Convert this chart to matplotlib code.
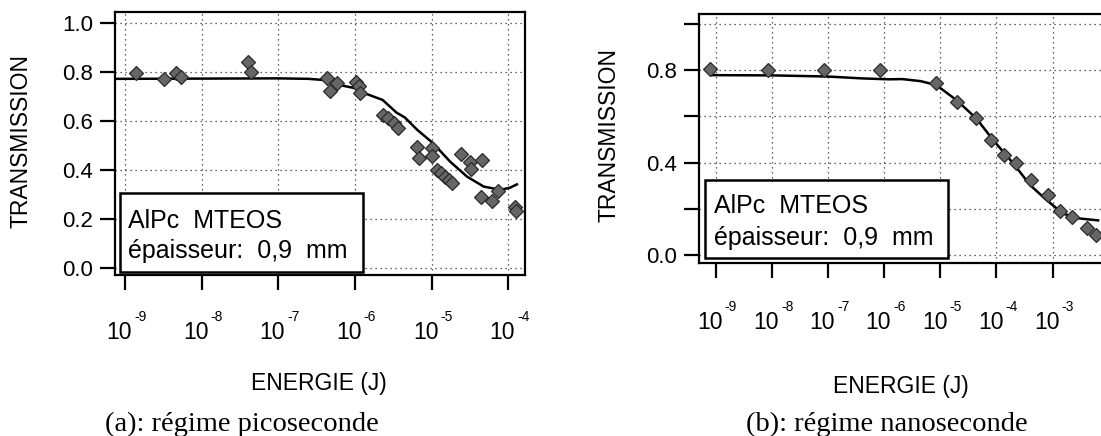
#!/usr/bin/env python3
"""
Transmission vs energy for AlPc MTEOS (picosecond and nanosecond regimes).
"""

import math

import matplotlib
matplotlib.use("Agg")
import matplotlib.pyplot as plt
from matplotlib.patches import Rectangle
from matplotlib.ticker import FixedLocator, FixedFormatter, NullFormatter

plt.rcParams["font.family"] = ["Liberation Sans", "DejaVu Sans"]

# (a) picosecond regime: measured points and fit curve
pico_energy = [1.38e-9, 3.2e-9, 4.7e-9, 5.4e-9, 4.0e-8, 4.4e-8,
               4.3e-7, 4.7e-7, 5.8e-7, 1.05e-6, 1.12e-6, 1.17e-6,
               2.3e-6, 2.7e-6, 3.2e-6, 3.7e-6, 6.5e-6, 6.8e-6,
               1.02e-5, 1.0e-5, 1.17e-5, 1.32e-5, 1.48e-5, 1.7e-5, 1.86e-5,
               2.45e-5, 3.2e-5, 3.25e-5, 4.6e-5, 4.4e-5, 6.2e-5, 7.4e-5,
               1.23e-4, 1.26e-4]
pico_trans = [0.798, 0.773, 0.796, 0.780, 0.843, 0.800,
              0.775, 0.725, 0.755, 0.762, 0.744, 0.714,
              0.626, 0.612, 0.592, 0.574, 0.496, 0.449,
              0.490, 0.458, 0.401, 0.388, 0.371, 0.360, 0.347,
              0.465, 0.435, 0.404, 0.442, 0.290, 0.275, 0.313,
              0.250, 0.235]
pico_fit_energy = [7.6e-10, 1e-8, 1e-7, 2.5e-7, 4e-7, 7e-7, 1e-6, 1.4e-6,
                   2.3e-6, 3.5e-6, 4.5e-6, 6.5e-6, 1.05e-5, 1.75e-5, 2.9e-5,
                   4.8e-5, 7.9e-5, 1.05e-4, 1.3e-4]
pico_fit_trans = [0.773, 0.774, 0.775, 0.773, 0.768, 0.745, 0.735, 0.712,
                  0.687, 0.635, 0.615, 0.565, 0.510, 0.435, 0.374,
                  0.333, 0.320, 0.328, 0.342]

# (b) nanosecond regime
nano_energy = [7.8e-10, 8.5e-9, 8.5e-8, 8.5e-7, 8.5e-6, 1.95e-5, 4.3e-5,
               8.1e-5, 1.38e-4, 2.2e-4, 4.1e-4, 8.3e-4, 1.35e-3, 2.2e-3,
               4.1e-3, 5.9e-3]
nano_trans = [0.803, 0.800, 0.800, 0.800, 0.742, 0.663, 0.594,
              0.497, 0.432, 0.397, 0.324, 0.259, 0.192, 0.166,
              0.118, 0.086]
nano_fit_energy = [8.4e-10, 1e-8, 1e-7, 4e-7, 1.2e-6, 2.1e-6, 4.5e-6, 8.5e-6,
                   1.95e-5, 4.4e-5, 8.8e-5, 2e-4, 4e-4, 7.9e-4, 1.55e-3,
                   3.1e-3, 6.5e-3]
nano_fit_trans = [0.778, 0.777, 0.772, 0.764, 0.760, 0.761, 0.752, 0.735,
                  0.670, 0.591, 0.497, 0.397, 0.303, 0.238, 0.180,
                  0.159, 0.151]

pico_xticks = [1e-9, 1e-8, 1e-7, 1e-6, 1e-5, 1e-4]
nano_xticks = [1e-9, 1e-8, 1e-7, 1e-6, 1e-5, 1e-4, 1e-3]
pico_yticks = [0.0, 0.2, 0.4, 0.6, 0.8, 1.0]
pico_ylabels = ["0.0", "0.2", "0.4", "0.6", "0.8", "1.0"]
nano_yticks = [0.0, 0.2, 0.4, 0.6, 0.8, 1.0]
nano_ylabels = ["0.0", "", "0.4", "", "0.8", ""]

SAMPLE = "AlPc  MTEOS"
THICK = "épaisseur:  0,9  mm"

W, H = 1101, 436
PX = 72 / 100  # points per pixel at dpi 100


def decade_labels(ax, xticks, base_drop, exp_drop):
    # "10" with a small raised exponent, as in the original figure
    for v in xticks:
        e = int(round(math.log10(v)))
        ax.annotate("10", xy=(v, 0), xycoords=("data", "axes fraction"),
                    xytext=(7 * PX, -base_drop * PX), textcoords="offset points",
                    ha="right", va="baseline", fontsize=16.5)
        ax.annotate("%d" % e, xy=(v, 0), xycoords=("data", "axes fraction"),
                    xytext=(9 * PX, -exp_drop * PX), textcoords="offset points",
                    ha="left", va="baseline", fontsize=10)


def style_axes(ax, xticks, xlim, yticks, ylabels, ylim):
    ax.set_xscale("log")
    ax.set_xlim(*xlim)
    ax.set_ylim(*ylim)
    ax.xaxis.set_major_locator(FixedLocator(xticks))
    ax.xaxis.set_major_formatter(NullFormatter())
    ax.xaxis.set_minor_locator(FixedLocator([]))
    ax.yaxis.set_major_locator(FixedLocator(yticks))
    ax.yaxis.set_major_formatter(FixedFormatter(ylabels))
    ax.tick_params(axis="x", direction="out", length=11, width=1.6)
    ax.tick_params(axis="y", direction="out", length=11, width=1.6,
                   labelsize=16, pad=5)
    for s in ax.spines.values():
        s.set_linewidth(1.6)
    ax.grid(True, which="major", linestyle=(0, (1, 3)), color="#333333",
            linewidth=0.9)
    ax.set_axisbelow(True)


def info_box(ax, box, y1, y2, x_text):
    x0, y0, x1, yt = box
    ax.add_patch(Rectangle((x0, y0), x1 - x0, yt - y0, transform=ax.transAxes,
                           facecolor="white", edgecolor="black", linewidth=1.8,
                           zorder=5, clip_on=False))
    ax.text(x_text, y1, SAMPLE, transform=ax.transAxes, fontsize=18,
            va="baseline", ha="left", zorder=6)
    ax.text(x_text, y2, THICK, transform=ax.transAxes, fontsize=18,
            va="baseline", ha="left", zorder=6)


def main():
    fig = plt.figure(figsize=(W / 100, H / 100), dpi=100)

    # panel (a)
    ax1 = fig.add_axes([115 / W, 1 - 275 / H, 410 / W, 263 / H])
    style_axes(ax1, pico_xticks, (10 ** -9.13, 10 ** -3.78),
               pico_yticks, pico_ylabels, (-0.028, 1.046))
    decade_labels(ax1, pico_xticks, 64, 46)
    ax1.plot(pico_fit_energy, pico_fit_trans, color="black", linewidth=1.8,
             zorder=3)
    ax1.plot(pico_energy, pico_trans, linestyle="none", marker="D",
             markersize=7, markerfacecolor="#666666",
             markeredgecolor="#2a2a2a", markeredgewidth=0.9, zorder=4)
    ax1.set_ylabel("TRANSMISSION", fontsize=16.5)
    ax1.yaxis.set_label_coords(-0.2, 0.508)
    ax1.set_xlabel("ENERGIE (J)", fontsize=16.5)
    ax1.xaxis.set_label_coords(0.497, -0.37)
    info_box(ax1, (0.012, 0.011, 0.605, 0.312), 0.179, 0.065, 0.032)

    # panel (b)
    ax2 = fig.add_axes([699 / W, 1 - 263 / H, 404 / W, 249 / H])
    style_axes(ax2, nano_xticks, (10 ** -9.3, 10 ** -2.1),
               nano_yticks, nano_ylabels, (-0.033, 1.042))
    decade_labels(ax2, nano_xticks, 66, 48)
    ax2.spines["right"].set_visible(False)
    ax2.plot(nano_fit_energy, nano_fit_trans, color="black", linewidth=1.8,
             zorder=3)
    ax2.plot(nano_energy, nano_trans, linestyle="none", marker="D",
             markersize=7, markerfacecolor="#666666",
             markeredgecolor="#2a2a2a", markeredgewidth=0.9, zorder=4)
    ax2.set_ylabel("TRANSMISSION", fontsize=16.5)
    ax2.yaxis.set_label_coords(-0.195, 0.516)
    ax2.set_xlabel("ENERGIE (J)", fontsize=16.5)
    ax2.xaxis.set_label_coords(0.50, -0.45)
    info_box(ax2, (0.015, 0.02, 0.616, 0.333), 0.20, 0.072, 0.036)

    fig.text(242 / W, 1 - 424 / H, "(a): régime picoseconde",
             family="Liberation Serif", fontsize=20.5, ha="center", va="center")
    fig.text(887 / W, 1 - 424 / H, "(b): régime nanoseconde",
             family="Liberation Serif", fontsize=20.5, ha="center", va="center")

    fig.savefig("out.png", dpi=100)
    plt.close(fig)


if __name__ == "__main__":
    main()
